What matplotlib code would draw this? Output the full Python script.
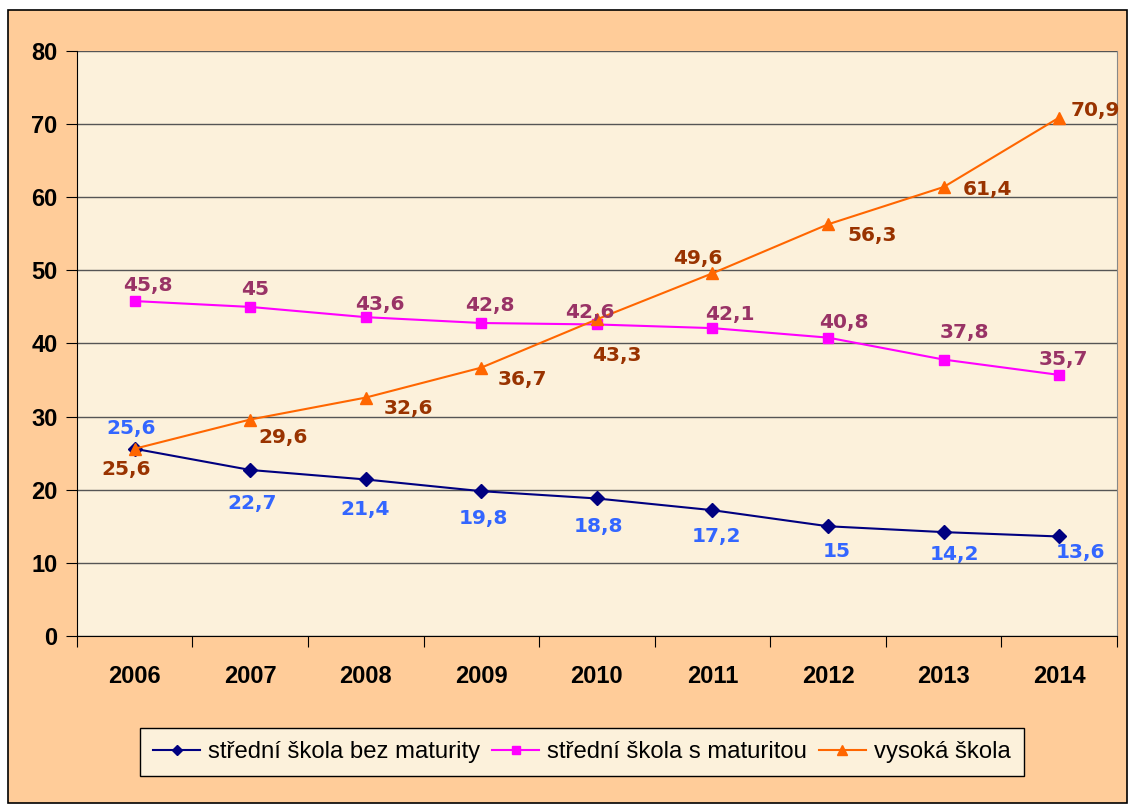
import matplotlib.pyplot as plt
from matplotlib.patches import Rectangle

years = ['2006', '2007', '2008', '2009', '2010', '2011', '2012', '2013', '2014']
bez_maturity = [25.6, 22.7, 21.4, 19.8, 18.8, 17.2, 15.0, 14.2, 13.6]
s_maturitou = [45.8, 45.0, 43.6, 42.8, 42.6, 42.1, 40.8, 37.8, 35.7]
vysoka = [25.6, 29.6, 32.6, 36.7, 43.3, 49.6, 56.3, 61.4, 70.9]
labels = ['střední škola bez maturity', 'střední škola s maturitou', 'vysoká škola']

# posun popisků (v pixelech)
off1 = [(-4, 20), (2, -34), (-1, -30), (2, -27), (2, -28), (4, -26), (9, -25), (11, -22), (21, -16)]
off2 = [(13, 16), (5, 17), (14, 13), (9, 18), (-7, 12), (17, 14), (16, 15), (21, 27), (4, 15)]
off3 = [(-9, -21), (33, -18), (43, -11), (41, -12), (20, -36), (-15, 15), (44, -11), (44, -2), (36, 7)]

def fmt(v):
    return ('%g' % v).replace('.', ',')

fig = plt.figure(figsize=(11.3, 8.06), dpi=100, facecolor='white')
fig.patches.append(Rectangle((0.007, 0.004), 0.990, 0.984, transform=fig.transFigure,
                             facecolor='#FFCC99', edgecolor='black', linewidth=1.2, zorder=-5))
ax = fig.add_axes([0.068, 0.211, 0.9205, 0.7257])
ax.set_facecolor('#FCF1DB')

x = list(range(len(years)))
series = [
    (bez_maturity, '#000080', 'D', 7, off1, '#3366FF'),
    (s_maturitou, '#FF00FF', 's', 7, off2, '#993366'),
    (vysoka, '#FF6600', '^', 9, off3, '#993300'),
]
for (vals, col, mk, ms, offs, lcol), lab in zip(series, labels):
    ax.plot(x, vals, color=col, marker=mk, markersize=ms, linewidth=1.5, label=lab, zorder=3)
    for xi, v, (dx, dy) in zip(x, vals, offs):
        ax.annotate(fmt(v), (xi, v), xytext=(dx, dy), textcoords='offset pixels',
                    ha='center', va='center', color=lcol, fontsize=14.5, fontweight='bold',
                    family='DejaVu Sans', zorder=4)

ax.set_xlim(-0.5, 8.5)
ax.set_ylim(0, 80)
ax.set_yticks(range(0, 81, 10))
ax.yaxis.grid(True, color='#555555', linewidth=1)
ax.set_axisbelow(True)
ax.set_xticks([i + 0.5 for i in range(-1, 9)])
ax.set_xticklabels([])
ax.set_xticks(x, minor=True)
ax.set_xticklabels(years, minor=True)
ax.tick_params(axis='x', which='minor', length=0, pad=21)
ax.tick_params(axis='x', which='major', length=8, direction='out')
ax.tick_params(axis='y', length=8, pad=6)
for t in ax.get_xticklabels(minor=True) + ax.get_yticklabels():
    t.set_fontsize(17)
    t.set_fontweight('bold')
    t.set_family('Liberation Sans')
ax.spines['top'].set_visible(False)
ax.spines['right'].set_color('#888888')
ax.spines['left'].set_color('black')
ax.spines['bottom'].set_color('black')

leg = fig.legend(loc='center', bbox_to_anchor=(0.515, 0.067), ncol=3, frameon=True,
                 fancybox=False, edgecolor='black', facecolor='#FCF1DB', framealpha=1,
                 prop={'family': 'Liberation Sans', 'size': 17.2}, handlelength=1.95,
                 handletextpad=0.35, columnspacing=0.5, markerscale=0.8,
                 borderpad=0.55)
leg.get_frame().set_linewidth(1)

fig.savefig('out.png', dpi=100, facecolor=fig.get_facecolor())
